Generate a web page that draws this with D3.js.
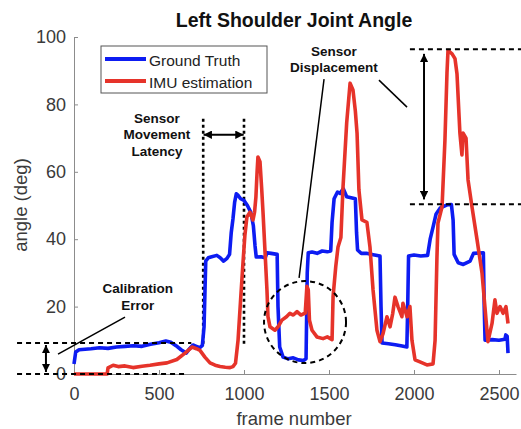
<!DOCTYPE html>
<html>
<head>
<meta charset="utf-8">
<script src="https://cdn.jsdelivr.net/npm/d3@7/dist/d3.min.js"></script>
<style>
  body { margin: 0; background: #fff; }
  svg { display: block; font-family: "Liberation Sans", Arial, Helvetica, sans-serif; }
</style>
</head>
<body>
<svg id="chart" width="521" height="429"></svg>
<script>
//============================================================
// Data ([frame, angle in deg])
//------------------------------------------------------------

var seriesNames = ['Ground Truth', 'IMU estimation'];

var groundTruth = [
  [0, 3], [10, 6.5], [30, 7.2], [100, 7.5], [150, 7.8], [200, 7.6], [250, 8], [300, 8.2],
  [350, 8.4], [400, 8.2], [450, 8.8], [500, 9.3], [540, 9.8], [570, 9.4], [600, 8.4],
  [630, 7.2], [660, 6.2], [680, 7.5], [700, 8.6], [720, 8.2], [740, 7.8], [755, 8.5],
  [765, 14], [775, 33.5], [790, 34.5], [810, 34.8], [840, 35.2], [860, 34.5], [880, 33.5],
  [900, 34.3], [915, 35.5], [925, 42], [935, 46], [945, 51], [955, 53.5], [965, 53],
  [980, 52], [1000, 51.5], [1020, 50], [1040, 48], [1055, 44], [1065, 38], [1072, 34.7],
  [1100, 34.8], [1125, 34.5], [1135, 36], [1160, 35.8], [1195, 35.5], [1200, 20], [1210, 8],
  [1230, 5], [1260, 4.5], [1290, 4.8], [1320, 4.2], [1350, 4], [1365, 4.5], [1372, 30],
  [1378, 36], [1400, 36.2], [1430, 35.8], [1460, 36.5], [1490, 36.3], [1510, 36.5],
  [1518, 45], [1530, 52], [1550, 54], [1565, 53.6], [1584, 55], [1604, 52.6], [1630, 52.3],
  [1655, 52], [1662, 42], [1668, 36.8], [1690, 35.8], [1720, 35.8], [1760, 35.4],
  [1800, 35], [1806, 20], [1812, 9.2], [1850, 9], [1890, 8.7], [1930, 8.3], [1958, 8],
  [1963, 20], [1968, 35], [2000, 35.3], [2040, 35], [2080, 35.2], [2095, 40], [2112, 43.6],
  [2130, 47.5], [2155, 49.3], [2195, 50.2], [2220, 50.3], [2230, 45.7], [2236, 35.5],
  [2260, 33], [2290, 32.5], [2330, 33.5], [2350, 35.8], [2408, 36], [2413, 20], [2418, 10],
  [2460, 10.2], [2500, 10], [2535, 10.3], [2540, 11.6], [2548, 11.2], [2553, 6.2]
];

var imuEstimate = [
  [0, 0], [195, 0], [200, 1.8], [230, 2.6], [260, 2.2], [300, 2.4], [347, 1.9], [400, 2.3],
  [447, 2.6], [500, 3], [547, 3.3], [605, 4.3], [653, 6.2], [694, 8], [720, 7.5], [741, 7],
  [770, 5], [800, 3.3], [830, 2.6], [859, 2.2], [890, 2], [918, 1.9], [935, 2.2], [950, 3.2],
  [965, 10], [980, 22], [994, 33], [1005, 41], [1017, 46.6], [1035, 48], [1053, 45.7],
  [1062, 48], [1070, 52.5], [1077, 60], [1082, 64.4], [1094, 63], [1104, 55], [1112, 47.8],
  [1125, 35], [1135, 25], [1141, 17], [1153, 14], [1182, 13], [1200, 14], [1223, 16],
  [1250, 17], [1270, 18], [1290, 17.5], [1312, 18.5], [1335, 17.5], [1347, 17.8],
  [1360, 18], [1370, 26], [1378, 25], [1385, 16], [1400, 13], [1429, 11], [1465, 10.5],
  [1490, 11], [1518, 10.2], [1524, 23], [1540, 32], [1553, 37.7], [1570, 40.5], [1582, 55],
  [1604, 74.5], [1624, 86.3], [1641, 84.3], [1655, 78], [1665, 71.5], [1676, 54.6],
  [1694, 45.7], [1723, 45], [1741, 37.7], [1759, 25], [1782, 13], [1800, 9.6], [1818, 12],
  [1841, 17], [1859, 14], [1875, 18], [1888, 22.8], [1906, 20], [1929, 17], [1935, 21],
  [1959, 17], [1976, 20], [1988, 10], [2006, 4.2], [2035, 3.6], [2076, 2.7], [2112, 3],
  [2124, 10], [2135, 34.7], [2141, 44.8], [2165, 49.6], [2182, 69.4], [2194, 89.3],
  [2200, 96], [2224, 95], [2241, 93.6], [2253, 89], [2270, 71.5], [2282, 65], [2288, 71.5],
  [2306, 70], [2318, 57.6], [2341, 49.6], [2371, 39.8], [2400, 30], [2429, 13], [2435, 9.6],
  [2459, 15], [2476, 22], [2488, 18], [2506, 20], [2524, 18], [2541, 20], [2553, 15]
];

var xTicks = [0, 500, 1000, 1500, 2000, 2500];
var yTicks = [0, 20, 40, 60, 80, 100];

//============================================================
// Layout
//------------------------------------------------------------

var margin = {top: 37, right: 5, bottom: 55, left: 74},
    width = 521,
    height = 429,
    availableWidth = width - margin.left - margin.right,
    availableHeight = height - margin.top - margin.bottom,
    colors = ['#0d1cf2', '#e6332a'],
    axisColor = '#8c8c8c',
    textColor = '#3a3a3a';

var svg = d3.select('#chart');

var defs = svg.append('defs');
['start', 'end'].forEach(function(k) {
  defs.append('marker')
      .attr('id', 'arrow-' + k)
      .attr('viewBox', '0 0 10 10')
      .attr('refX', k === 'end' ? 10 : 0)
      .attr('refY', 5)
      .attr('markerWidth', 4.2)
      .attr('markerHeight', 4.2)
      .attr('orient', 'auto')
    .append('path')
      .attr('d', k === 'end' ? 'M0,0L10,5L0,10Z' : 'M10,0L0,5L10,10Z')
      .attr('fill', '#000');
});

var wrap = svg.append('g')
    .attr('transform', 'translate(' + margin.left + ',' + margin.top + ')');

//------------------------------------------------------------
// Scales & axes

var x = d3.scaleLinear().domain([0, 2600]).range([0, availableWidth]);
var y = d3.scaleLinear().domain([0, 100]).range([availableHeight, 0]);

var xAxis = wrap.append('g')
    .attr('transform', 'translate(0,' + availableHeight + ')')
    .call(d3.axisBottom(x).tickValues(xTicks).tickFormat(d3.format('d'))
      .tickSizeInner(-4).tickSizeOuter(0).tickPadding(13));

var yAxis = wrap.append('g')
    .call(d3.axisLeft(y).tickValues(yTicks).tickFormat(d3.format('d'))
      .tickSizeInner(-4).tickSizeOuter(0).tickPadding(8));

[xAxis, yAxis].forEach(function(a) {
  a.select('.domain').attr('stroke', axisColor);
  a.selectAll('.tick line').attr('stroke', axisColor);
  a.selectAll('.tick text')
    .attr('fill', textColor)
    .style('font-size', '18px')
    .style('font-family', '"Liberation Sans", Arial, sans-serif');
});

//------------------------------------------------------------
// Annotation helpers (anchors given in data units)

function seg(g, x1, y1, x2, y2, opts) {
  opts = opts || {};
  var l = g.append('line')
      .attr('x1', x(x1)).attr('y1', y(y1))
      .attr('x2', x(x2)).attr('y2', y(y2))
      .attr('stroke', '#000')
      .attr('stroke-width', opts.width || 1.5);
  if (opts.dash) { l.attr('stroke-dasharray', opts.dash); }
  if (opts.arrows) {
    l.attr('marker-start', 'url(#arrow-start)').attr('marker-end', 'url(#arrow-end)');
  }
  return l;
}

function label(g, cx, baseline, lines) {
  var t = g.append('text')
      .attr('text-anchor', 'middle')
      .attr('font-weight', 'bold')
      .style('font-size', '13.5px')
      .attr('fill', '#111');
  lines.forEach(function(s, i) {
    t.append('tspan')
      .attr('x', x(cx))
      .attr('y', y(baseline) + i * 16.5)
      .text(s);
  });
}

var notesUnder = wrap.append('g').attr('class', 'notes-under');

// sensor movement latency: dotted guides under the lines
seg(notesUnder, 760, 9, 760, 76, {dash: '3,3', width: 2.6});
seg(notesUnder, 1000, 9, 1000, 76, {dash: '3,3', width: 2.6});

//------------------------------------------------------------
// Series

var line = d3.line()
    .curve(d3.curveLinear)
    .x(function(d) { return x(d[0]); })
    .y(function(d) { return y(d[1]); });

wrap.append('g').attr('class', 'series')
  .selectAll('path')
  .data([groundTruth, imuEstimate])
  .enter().append('path')
    .attr('d', line)
    .attr('fill', 'none')
    .attr('stroke', function(d, i) { return colors[i]; })
    .attr('stroke-width', 3.6)
    .attr('stroke-linejoin', 'round');

//------------------------------------------------------------
// Annotations over the lines

var notesOver = wrap.append('g').attr('class', 'notes-over');

// latency
seg(notesOver, 762, 71, 998, 71, {width: 2, arrows: true});
label(notesOver, 488, 74.5, ['Sensor', 'Movement', 'Latency']);

// calibration error
seg(notesOver, -335, 0, 650, 0, {dash: '5,4', width: 2});
seg(notesOver, -335, 9.2, 690, 9.2, {dash: '5,4', width: 2});
seg(notesOver, -165, 8.6, -165, 0.6, {width: 2, arrows: true});
seg(notesOver, -94, 5.9, 300, 16.9, {width: 1.5});
label(notesOver, 375, 24, ['Calibration', 'Error']);

// sensor displacement
seg(notesOver, 1976, 96.4, 2650, 96.4, {dash: '5,4', width: 2});
seg(notesOver, 1976, 50.4, 2650, 50.4, {dash: '5,4', width: 2});
seg(notesOver, 2059, 95, 2059, 51.8, {width: 2, arrows: true});
seg(notesOver, 1471, 87.5, 1324, 28.5, {width: 1.5});
seg(notesOver, 1794, 87.2, 1959, 79.2, {width: 1.5});
label(notesOver, 1529, 94.4, ['Sensor', 'Displacement']);

notesOver.append('circle')
    .attr('cx', x(1359))
    .attr('cy', y(15.4))
    .attr('r', 41)
    .attr('fill', 'none')
    .attr('stroke', '#000')
    .attr('stroke-width', 2)
    .attr('stroke-dasharray', '5,4');

//------------------------------------------------------------
// Legend

var legend = wrap.append('g').attr('transform', 'translate(27,9)');
legend.append('rect')
    .attr('width', 166).attr('height', 47)
    .attr('fill', '#fff')
    .attr('stroke', '#555')
    .attr('stroke-width', 1);
seriesNames.forEach(function(name, i) {
  var row = legend.append('g').attr('transform', 'translate(0,' + (13 + i * 22) + ')');
  row.append('line')
      .attr('x1', 4).attr('x2', 45)
      .attr('stroke', colors[i]).attr('stroke-width', 4);
  row.append('text')
      .attr('x', 48).attr('y', 7)
      .attr('fill', '#222')
      .style('font-size', '15.5px')
      .text(name);
});

//------------------------------------------------------------
// Titles

svg.append('text')
    .attr('x', 294).attr('y', 27)
    .attr('text-anchor', 'middle')
    .attr('font-weight', 'bold')
    .style('font-size', '19.5px')
    .attr('fill', '#111')
    .text('Left Shoulder Joint Angle');

svg.append('text')
    .attr('x', 294).attr('y', 425)
    .attr('text-anchor', 'middle')
    .style('font-size', '18.5px')
    .attr('fill', textColor)
    .text('frame number');

svg.append('text')
    .attr('transform', 'translate(27,205) rotate(-90)')
    .attr('text-anchor', 'middle')
    .style('font-size', '18.5px')
    .attr('fill', textColor)
    .text('angle (deg)');
</script>
</body>
</html>
